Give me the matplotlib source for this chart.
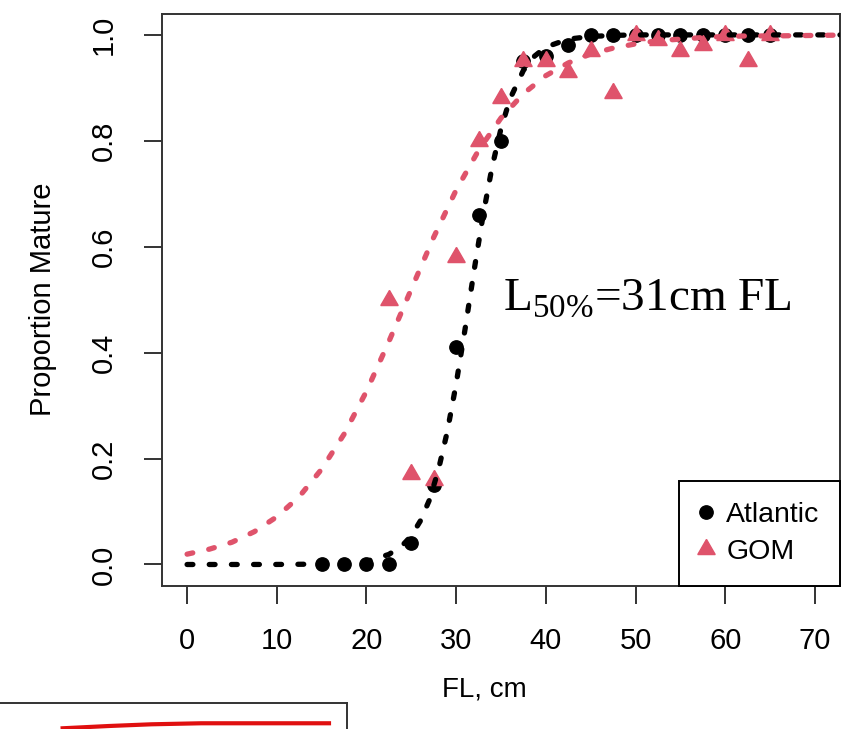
import matplotlib
matplotlib.use("Agg")
import matplotlib.pyplot as plt

plt.rcParams['font.family'] = ['Liberation Sans', 'DejaVu Sans']
plt.rcParams['mathtext.fontset'] = 'custom'
plt.rcParams['mathtext.rm'] = 'Liberation Serif'

atl_fl = [15, 17.5, 20, 22.5, 25, 27.5, 30, 32.5, 35, 37.5, 40, 42.5,
          45, 47.5, 50, 52.5, 55, 57.5, 60, 62.5, 65]
atl_prop = [0.0, 0.0, 0.0, 0.0, 0.04, 0.15, 0.41, 0.66, 0.80, 0.95, 0.96, 0.98,
            1.0, 1.0, 1.0, 1.0, 1.0, 1.0, 1.0, 1.0, 1.0]

gom_fl = [22.5, 25, 27.5, 30, 32.5, 35, 37.5, 40, 42.5, 45, 47.5,
          50, 52.5, 55, 57.5, 60, 62.5, 65]
gom_prop = [0.50, 0.17, 0.16, 0.58, 0.80, 0.88, 0.95, 0.95, 0.93, 0.97, 0.89,
            1.0, 0.99, 0.97, 0.98, 1.0, 0.95, 1.0]

# fitted curves
atl_curve_fl = [0, 5, 10, 15, 17.5, 20, 22.5, 24, 25, 26, 27, 28, 29, 30, 31,
                32, 33, 34, 35, 36, 37.5, 38.75, 40, 42.5, 45, 47.5, 50, 60, 75]
atl_curve_p = [0.0, 0.0, 0.0001, 0.0007, 0.002, 0.006, 0.019, 0.036, 0.054,
               0.082, 0.121, 0.177, 0.25, 0.341, 0.445, 0.555, 0.659, 0.75,
               0.823, 0.879, 0.933, 0.96, 0.977, 0.992, 0.997, 0.999, 1.0,
               1.0, 1.0]

gom_curve_fl = [0, 2.5, 5, 7.5, 10, 12.5, 15, 17.5, 20, 22.5, 25, 27.5, 30,
                32.5, 35, 37.5, 40, 42.5, 45, 47.5, 50, 52.5, 55, 57.5, 60,
                62.5, 65, 70, 75]
gom_curve_p = [0.0195, 0.029, 0.042, 0.062, 0.09, 0.128, 0.18, 0.246, 0.327,
               0.421, 0.52, 0.618, 0.707, 0.782, 0.843, 0.889, 0.923, 0.947,
               0.964, 0.975, 0.983, 0.989, 0.992, 0.995, 0.997, 0.998, 0.998,
               0.999, 1.0]

x_ticks = [0, 10, 20, 30, 40, 50, 60, 70]
y_ticks = [0.0, 0.2, 0.4, 0.6, 0.8, 1.0]

# clipped piece of the neighbouring panel below
frag_x = [20, 33, 45, 59, 95]
frag_y = [0.556, 0.596, 0.626, 0.644, 0.644]

red = '#DF536B'
edge = '#333333'

fig = plt.figure(figsize=(8.41, 7.29), dpi=100)
ax = fig.add_axes([0.1926, 0.1966, 0.8062, 0.7846])

ax.plot(atl_fl, atl_prop, 'o', color='black', ms=9.6, label='Atlantic', zorder=3)
ax.plot(gom_fl, gom_prop, linestyle='none', marker=(3, 0, 0), color=red,
        ms=14.5, label='GOM', zorder=3)
ax.plot(atl_curve_fl, atl_curve_p, color='black', lw=3.8,
        linestyle=(0, (1.1, 3.1)), dash_capstyle='round', zorder=4)
ax.plot(gom_curve_fl, gom_curve_p, color=red, lw=3.8,
        linestyle=(0, (1.1, 3.1)), dash_capstyle='round', zorder=4)

ax.set_xlim(-2.8, 72.8)
ax.set_ylim(-0.04, 1.04)
ax.set_xticks(x_ticks)
ax.set_xticklabels([str(v) for v in x_ticks])
ax.set_yticks(y_ticks)
ax.set_yticklabels([f'{v:.1f}' for v in y_ticks], rotation=90, va='center')

for s in ax.spines.values():
    s.set_linewidth(1.4)
    s.set_color(edge)
ax.tick_params(axis='both', length=13, width=1.4, color=edge, labelcolor='black')
ax.tick_params(axis='x', labelsize=21, pad=17)
ax.tick_params(axis='y', labelsize=21, pad=19)

ax.set_xlabel('FL, cm', fontsize=20)
ax.xaxis.set_label_coords(0.476, -0.182)
ax.xaxis.label.set_va('center')
ax.set_ylabel('Proportion Mature', fontsize=21)
ax.yaxis.set_label_coords(-0.176, 0.5)
ax.yaxis.label.set_va('center')

ax.text(35.2, 0.48, r'L$_{\mathrm{50\%}}$=31cm FL', fontsize=34,
        family='Liberation Serif', ha='left', va='baseline')

leg = ax.legend(loc='lower right', borderaxespad=0, fancybox=False,
                edgecolor='black', framealpha=1, fontsize=20.5,
                handlelength=0.5, handletextpad=0.45, borderpad=0.72,
                labelspacing=0.4)
leg.get_frame().set_linewidth(1.4)

# fragment of next figure at bottom-left
ax2 = fig.add_axes([-0.01, -0.0425, 0.4223, 0.0782])
ax2.plot(frag_x, frag_y, color='#E01010', lw=3)
ax2.set_xlim(0, 100)
ax2.set_ylim(0, 1)
ax2.set_xticks([])
ax2.set_yticks([])
for s in ax2.spines.values():
    s.set_linewidth(1.4)
    s.set_color(edge)
ax2.spines['left'].set_visible(False)

fig.savefig('out.png', dpi=100)
